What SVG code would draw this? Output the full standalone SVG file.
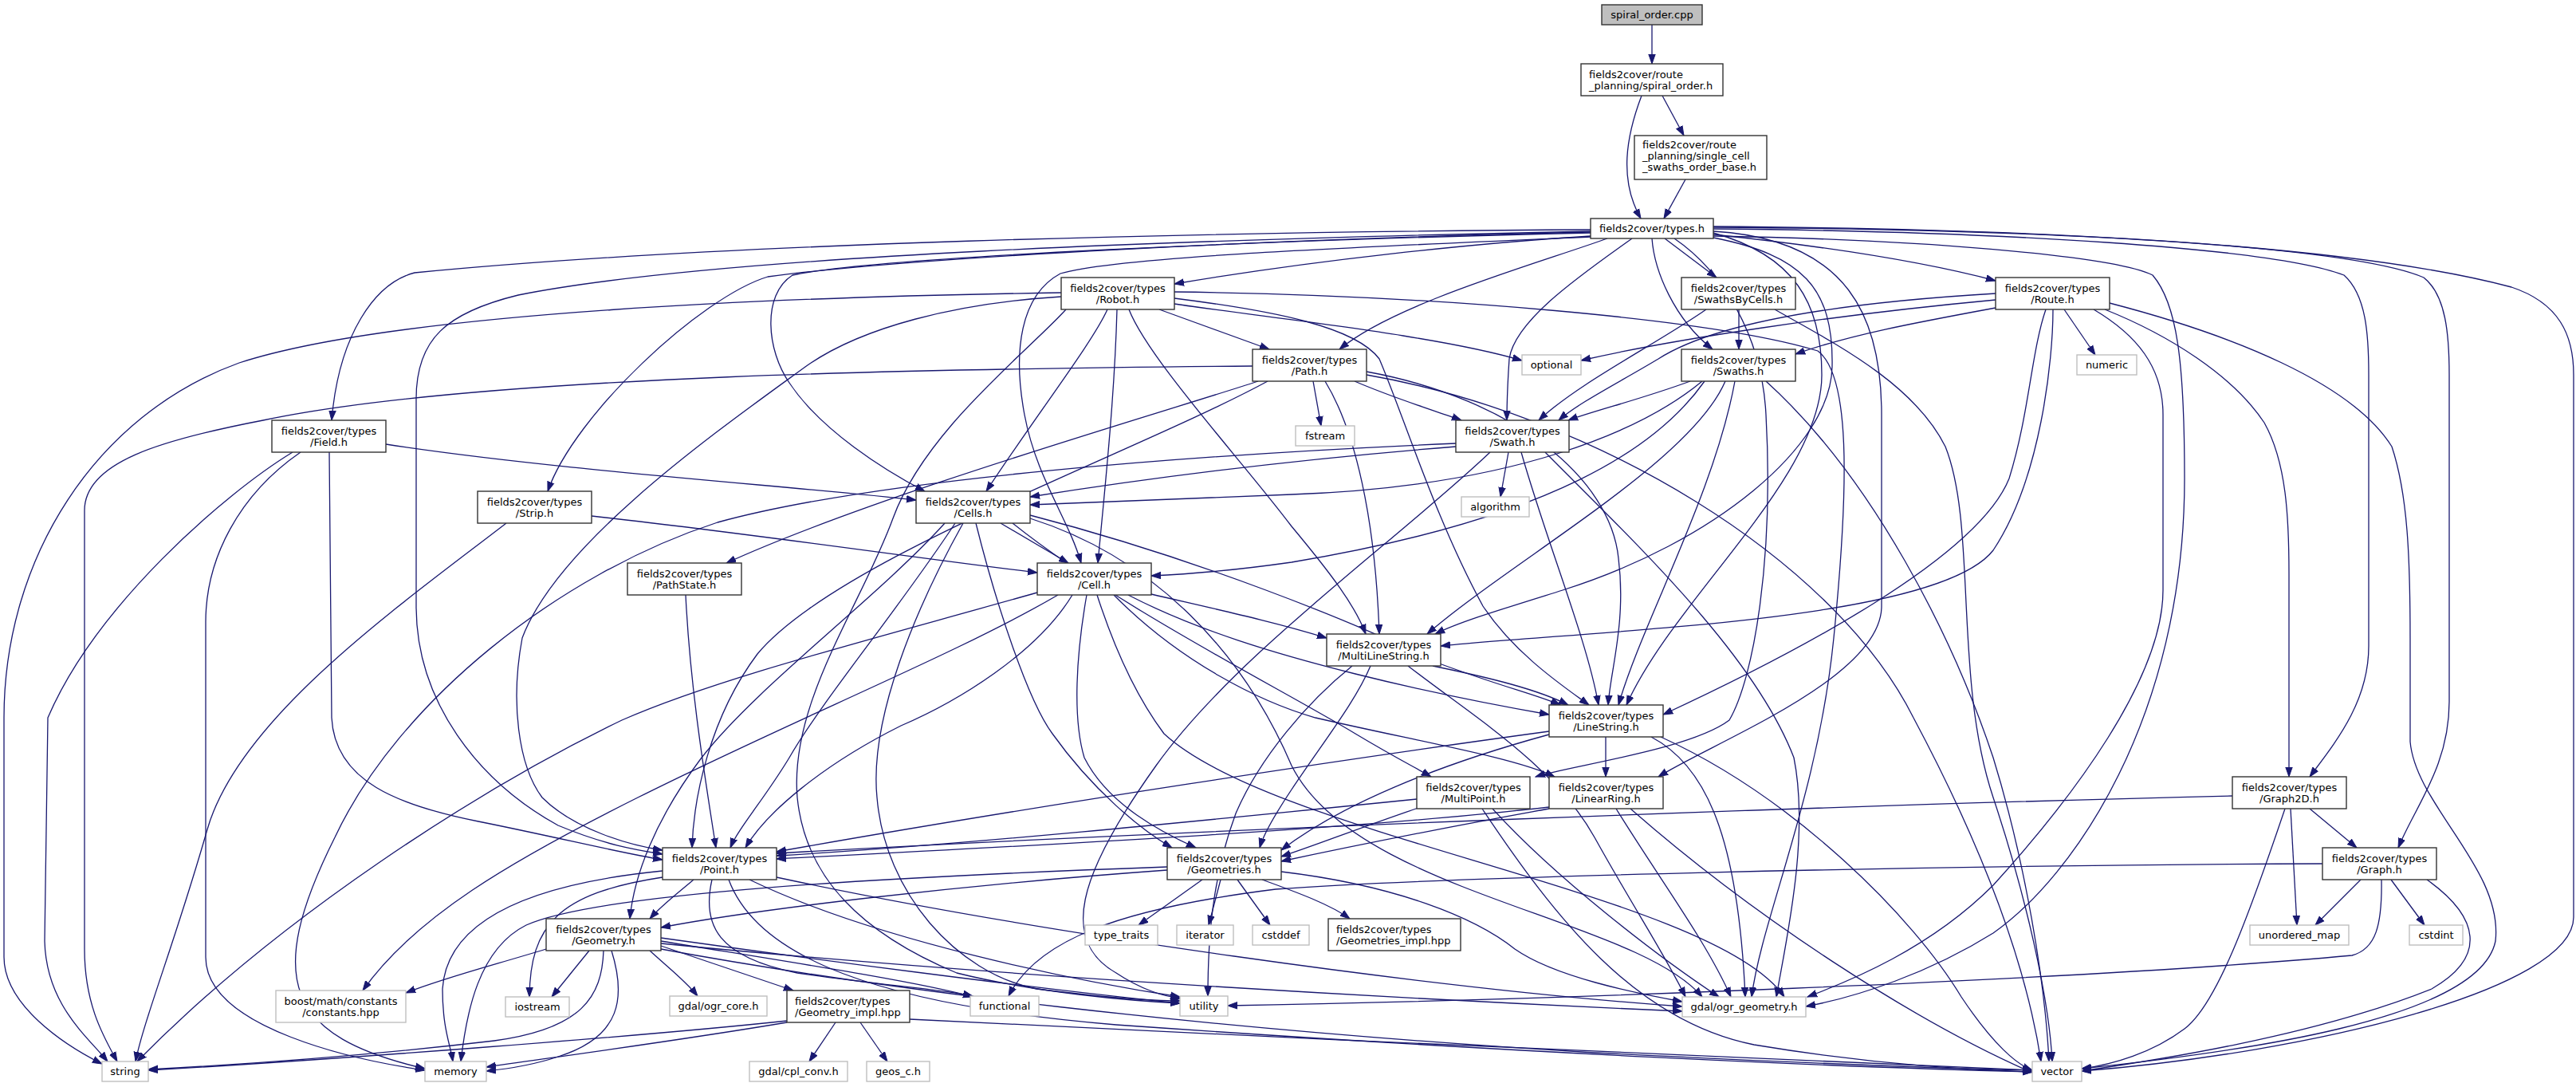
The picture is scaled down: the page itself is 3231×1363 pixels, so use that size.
<svg xmlns="http://www.w3.org/2000/svg" width="3231" height="1363" viewBox="0 0 3231 1363">
<defs>
<marker id="a" markerWidth="13" markerHeight="10" refX="12" refY="5" orient="auto" markerUnits="userSpaceOnUse"><path d="M0,0.8 L12,5 L0,9.2 z" fill="#191970" stroke="#191970" stroke-width="1"/></marker>
<style>
.n rect{fill:#fff;stroke:#333;stroke-width:1.4}
.x rect{fill:#fff;stroke:#bfbfbf;stroke-width:1.4}
.r rect{fill:#bfbfbf;stroke:#333;stroke-width:1.4}
text{font-family:"DejaVu Sans","Liberation Sans",sans-serif;font-size:13px;fill:#000}
.c{text-anchor:middle}
.l{text-anchor:start}
#edges path{fill:none;stroke:#191970;stroke-width:1.3;marker-end:url(#a)}
</style>
</defs>
<rect width="3231" height="1363" fill="#fff"/>
<g id="edges">
<path d="M2072,31 L2072,80"/>
<path d="M2059,120 C2040,170 2030,225 2058,274"/>
<path d="M2085,120 L2112,170"/>
<path d="M2114,225 L2087,274"/>
<path d="M1995,288 C1500,291 900,305 520,342 C470,355 425,420 416,527"/>
<path d="M1995,290 C1500,300 900,320 650,370 C560,392 522,425 522,500 L522,760 C522,880 600,980 700,1035 C760,1060 800,1066 831,1071"/>
<path d="M1995,291 C1600,300 1150,322 963,347 C880,372 720,520 687,616"/>
<path d="M1995,292 C1600,301 1100,322 994,345 C955,370 962,440 990,480 C1030,540 1110,590 1160,616"/>
<path d="M1995,296 C1850,305 1650,326 1473,356"/>
<path d="M1995,297 C1700,310 1400,322 1330,343 C1280,370 1270,440 1285,520 C1300,600 1340,650 1356,706"/>
<path d="M2016,299 C1930,330 1750,380 1680,438"/>
<path d="M2047,299 C1990,340 1900,400 1893,450 C1891,480 1890,505 1890,527"/>
<path d="M2072,299 C2075,340 2100,400 2148,438"/>
<path d="M2088,299 L2153,348"/>
<path d="M2149,294 C2300,310 2420,330 2503,352"/>
<path d="M2149,287 C2500,290 2850,310 2940,345 C2968,370 2971,420 2971,470 L2971,810 C2971,880 2930,930 2897,974"/>
<path d="M2149,285 C2600,288 2950,310 3040,348 C3068,370 3072,420 3072,470 L3072,880 C3072,960 3030,1010 3008,1063"/>
<path d="M2149,284 C2700,288 3000,320 3150,360 C3210,380 3228,420 3228,470 L3228,1150 C3228,1240 2900,1320 2611,1343"/>
<path d="M2149,296 C2400,300 2650,320 2700,345 C2730,380 2740,450 2740,600 C2740,900 2600,1100 2500,1170 C2420,1220 2330,1250 2265,1262"/>
<path d="M2149,298 C2260,320 2300,360 2298,460 C2296,560 2150,680 1960,740 C1880,765 1830,780 1800,795"/>
<path d="M2149,292 C2250,320 2285,380 2285,470 C2285,600 2100,750 2040,884"/>
<path d="M2149,290 C2320,300 2360,400 2360,520 L2360,760 C2360,850 2150,930 2080,974"/>
<path d="M2100,299 C2160,340 2210,420 2215,520 C2225,700 2200,850 2169,903 C2120,940 1970,960 1926,974"/>
<path d="M1331,367 C1000,372 500,390 300,455 C120,520 5,700 5,900 L5,1200 C5,1260 80,1310 128,1334"/>
<path d="M1331,372 C1200,380 1080,410 1010,460 C900,540 700,680 655,800 C640,880 650,960 680,1000 C720,1040 790,1060 831,1066"/>
<path d="M1473,381 C1600,400 1800,420 1909,452"/>
<path d="M1454,388 L1592,438"/>
<path d="M1389,388 C1370,430 1300,520 1237,616"/>
<path d="M1401,388 C1398,500 1385,620 1377,706"/>
<path d="M1473,374 C1600,390 1700,410 1730,450 C1760,520 1800,650 1860,760 C1900,820 1960,860 1993,884"/>
<path d="M1416,388 C1440,450 1560,580 1620,660 C1670,720 1700,760 1713,795"/>
<path d="M1337,388 C1290,440 1160,540 1120,650 C1080,760 990,880 1000,1000 C1010,1100 1080,1170 1200,1220 C1300,1245 1420,1255 1480,1258"/>
<path d="M1473,366 C1800,370 2150,400 2280,440 C2320,470 2320,600 2300,800 C2280,1000 2210,1150 2197,1250"/>
<path d="M2181,388 L2181,438"/>
<path d="M2140,388 C2080,430 1980,480 1930,527"/>
<path d="M2226,388 C2300,430 2400,480 2440,560 C2480,660 2450,850 2500,1000 C2540,1120 2570,1250 2574,1331"/>
<path d="M2503,376 C2300,395 2100,425 1983,452"/>
<path d="M2503,386 C2400,405 2320,420 2252,444"/>
<path d="M2503,368 C2300,380 2150,405 2080,450 C2030,480 1980,505 1955,527"/>
<path d="M2589,388 L2628,445"/>
<path d="M2640,388 C2720,420 2800,470 2840,530 C2868,580 2871,650 2871,720 L2871,974"/>
<path d="M2646,380 C2800,420 2950,480 3000,560 C3020,620 3023,700 3023,800 L3023,930 C3030,1010 3140,1090 3130,1180 C3110,1280 2800,1320 2611,1340"/>
<path d="M2566,388 C2548,440 2545,520 2520,600 C2480,700 2250,820 2086,896"/>
<path d="M2575,388 C2575,450 2560,600 2500,690 C2430,780 2000,790 1807,810"/>
<path d="M2626,388 C2680,420 2713,460 2713,520 L2713,740 C2713,850 2600,1000 2500,1110 C2420,1190 2320,1230 2267,1250"/>
<path d="M1571,459 C1200,462 600,470 330,527 C200,552 106,580 106,640 L106,1190 C106,1260 130,1300 147,1331"/>
<path d="M1647,478 L1657,534"/>
<path d="M1699,478 C1750,500 1800,515 1833,527"/>
<path d="M1578,478 C1450,520 1100,620 911,706"/>
<path d="M1590,478 C1420,570 1050,700 950,820 C890,900 870,1000 868,1063"/>
<path d="M1662,478 C1700,540 1725,650 1730,795"/>
<path d="M1714,466 C1900,500 2020,600 2030,700 C2040,780 2020,840 2017,884"/>
<path d="M1714,470 C2000,520 2300,700 2400,900 C2480,1050 2540,1200 2560,1331"/>
<path d="M2120,478 C2060,500 2000,515 1967,527"/>
<path d="M2135,478 C2060,540 1900,610 1620,620 C1500,625 1380,630 1292,633"/>
<path d="M2138,478 C2080,560 1950,650 1620,705 C1550,715 1490,720 1444,722"/>
<path d="M2164,478 C2120,580 1900,700 1790,795"/>
<path d="M2176,478 C2150,620 2060,780 2030,884"/>
<path d="M2215,478 C2350,600 2450,800 2500,950 C2540,1080 2565,1230 2570,1331"/>
<path d="M484,557 C700,590 1000,610 1149,627"/>
<path d="M413,567 L416,900 C420,980 500,1010 600,1030 C700,1050 780,1070 831,1078"/>
<path d="M367,567 C280,620 120,760 60,900 L56,1180 C58,1260 110,1300 135,1331"/>
<path d="M377,567 C300,620 258,700 258,780 L258,1200 C258,1290 450,1330 533,1342"/>
<path d="M742,647 C950,670 1150,700 1301,718"/>
<path d="M635,656 C500,760 300,900 260,1040 C220,1180 180,1280 170,1331"/>
<path d="M1826,560 C1700,570 1500,590 1292,623"/>
<path d="M1826,556 C1500,570 1100,600 900,655 C700,720 500,880 420,1050 C330,1230 360,1300 533,1340"/>
<path d="M1892,567 L1882,623"/>
<path d="M1908,567 C1940,680 1990,800 2005,884"/>
<path d="M1869,567 C1750,680 1550,820 1450,960 C1350,1100 1330,1180 1400,1220 C1430,1240 1460,1250 1482,1252"/>
<path d="M1938,567 C2050,680 2200,820 2250,950 C2270,1050 2240,1180 2228,1250"/>
<path d="M1255,656 L1340,706"/>
<path d="M1185,656 C1100,750 950,860 880,950 C820,1030 795,1100 790,1152"/>
<path d="M1198,656 C1130,760 1030,880 990,950 C960,1000 925,1040 916,1063"/>
<path d="M1224,656 C1250,760 1290,880 1320,920 C1370,990 1430,1040 1470,1063"/>
<path d="M1292,646 C1500,700 1700,780 1800,830 C1880,860 1930,872 1957,884"/>
<path d="M1292,650 C1450,700 1560,820 1620,960 C1700,1120 2050,1150 2135,1250"/>
<path d="M1208,656 C1150,760 1090,900 1100,1000 C1110,1120 1200,1220 1300,1240 C1380,1250 1440,1255 1480,1255"/>
<path d="M1270,656 C1400,760 1600,860 1700,920 C1750,950 1780,965 1795,974"/>
<path d="M860,746 C865,850 880,950 898,1063"/>
<path d="M1301,743 C1100,800 900,850 780,903 C600,990 350,1150 172,1331"/>
<path d="M1327,746 C1200,820 1000,900 800,1000 C640,1080 520,1150 455,1242"/>
<path d="M1345,746 C1300,820 1200,880 1130,910 C1030,960 960,1020 935,1063"/>
<path d="M1363,746 C1350,820 1345,900 1360,950 C1390,1010 1460,1045 1500,1063"/>
<path d="M1376,746 C1400,820 1430,880 1460,920 C1600,1050 2150,1120 2238,1250"/>
<path d="M1397,746 C1480,830 1580,880 1650,900 C1780,930 1900,950 1950,974"/>
<path d="M1444,745 C1530,765 1600,780 1664,800"/>
<path d="M1415,746 C1500,790 1600,820 1700,845 C1800,870 1880,885 1943,896"/>
<path d="M1797,835 C1870,850 1930,865 1967,884"/>
<path d="M1719,835 C1700,880 1660,930 1620,990 C1600,1020 1585,1045 1580,1063"/>
<path d="M1696,835 C1640,880 1580,950 1550,1020 C1520,1100 1515,1180 1515,1249"/>
<path d="M1766,835 C1850,900 1950,960 2000,1050 C2050,1140 2090,1200 2114,1250"/>
<path d="M1943,917 C1700,950 1300,1010 974,1068"/>
<path d="M1943,921 C1800,960 1680,1010 1607,1066"/>
<path d="M2014,924 L2014,974"/>
<path d="M2071,924 C2140,960 2180,1050 2189,1250"/>
<path d="M2083,924 C2250,1000 2400,1150 2460,1250 C2500,1310 2530,1335 2549,1342"/>
<path d="M1943,1012 C1700,1040 1300,1060 974,1077"/>
<path d="M1943,1014 C1800,1040 1700,1060 1607,1080"/>
<path d="M2027,1014 C2080,1100 2140,1180 2171,1250"/>
<path d="M2045,1014 C2200,1150 2400,1280 2549,1345"/>
<path d="M1777,1002 C1500,1030 1200,1060 974,1073"/>
<path d="M1779,1013 C1700,1040 1650,1060 1607,1074"/>
<path d="M1859,1014 C1950,1150 2050,1280 2200,1310 C2350,1335 2480,1342 2549,1344"/>
<path d="M1872,1014 C1950,1100 2080,1200 2156,1250"/>
<path d="M2800,998 C2300,1010 1500,1040 974,1070"/>
<path d="M2897,1014 L2956,1063"/>
<path d="M2873,1014 L2881,1160"/>
<path d="M2866,1014 C2820,1150 2780,1260 2740,1290 C2700,1320 2650,1335 2611,1340"/>
<path d="M2961,1103 L2904,1160"/>
<path d="M2999,1103 L3041,1160"/>
<path d="M3044,1103 C3110,1150 3120,1200 3050,1240 C2900,1300 2700,1330 2611,1343"/>
<path d="M2987,1103 C2988,1160 2980,1190 2950,1198 C2600,1230 1900,1255 1540,1261"/>
<path d="M2913,1083 C2400,1085 1800,1100 1600,1115 C1400,1140 1300,1180 1265,1249"/>
<path d="M870,1103 C850,1120 830,1135 815,1152"/>
<path d="M831,1100 C700,1120 665,1160 664,1250"/>
<path d="M831,1092 C650,1110 560,1160 555,1240 C555,1290 565,1310 568,1331"/>
<path d="M893,1103 C880,1160 900,1200 1000,1220 C1100,1235 1180,1240 1220,1249"/>
<path d="M940,1103 C1100,1180 1350,1230 1480,1250"/>
<path d="M914,1103 C950,1200 1100,1260 1400,1285 C1900,1320 2300,1338 2549,1344"/>
<path d="M974,1100 C1300,1170 1800,1240 2110,1262"/>
<path d="M1464,1087 C1100,1100 750,1120 660,1160 C600,1190 585,1270 578,1331"/>
<path d="M1464,1091 C1200,1110 950,1140 829,1163"/>
<path d="M1508,1103 L1428,1160"/>
<path d="M1531,1103 L1516,1160"/>
<path d="M1552,1103 L1593,1160"/>
<path d="M1583,1103 C1630,1120 1670,1135 1693,1152"/>
<path d="M1607,1093 C1750,1110 1850,1150 1900,1190 C1950,1225 2050,1245 2110,1256"/>
<path d="M685,1190 C620,1210 560,1225 509,1245"/>
<path d="M739,1192 L692,1250"/>
<path d="M757,1192 C755,1250 730,1290 620,1305 C450,1325 300,1335 186,1341"/>
<path d="M767,1192 C785,1250 780,1300 700,1325 C670,1335 640,1340 610,1343"/>
<path d="M815,1192 C840,1215 860,1230 875,1249"/>
<path d="M829,1186 C900,1210 960,1230 995,1242"/>
<path d="M829,1180 C950,1200 1150,1230 1220,1250"/>
<path d="M829,1176 C1000,1200 1300,1240 1480,1258"/>
<path d="M829,1190 C1100,1240 1500,1290 2000,1320 C2300,1335 2450,1340 2549,1342"/>
<path d="M829,1183 C1200,1220 1700,1250 2110,1268"/>
<path d="M987,1280 C800,1300 400,1330 186,1342"/>
<path d="M987,1282 C850,1305 700,1325 610,1338"/>
<path d="M1048,1282 L1015,1331"/>
<path d="M1079,1282 L1113,1331"/>
<path d="M1141,1278 C1600,1300 2200,1330 2549,1342"/>
</g>
<g id="n1" class="r"><rect x="2009" y="6" width="126" height="25"/><text class="c" x="2072" y="23">spiral_order.cpp</text></g>
<g id="n2" class="n"><rect x="1983" y="80" width="178" height="40"/><text class="l" x="1993" y="97.5">fields2cover/route</text><text class="l" x="1993" y="111.5">_planning/spiral_order.h</text></g>
<g id="n3" class="n"><rect x="2050" y="170" width="166" height="55"/><text class="l" x="2060" y="186">fields2cover/route</text><text class="l" x="2060" y="200">_planning/single_cell</text><text class="l" x="2060" y="214">_swaths_order_base.h</text></g>
<g id="n4" class="n"><rect x="1995" y="274" width="154" height="25"/><text class="c" x="2072" y="291">fields2cover/types.h</text></g>
<g id="n5" class="n"><rect x="1331" y="348" width="142" height="40"/><text class="c" x="1402" y="365.5">fields2cover/types</text><text class="c" x="1402" y="379.5">/Robot.h</text></g>
<g id="n6" class="n"><rect x="2109" y="348" width="143" height="40"/><text class="c" x="2180.5" y="365.5">fields2cover/types</text><text class="c" x="2180.5" y="379.5">/SwathsByCells.h</text></g>
<g id="n7" class="n"><rect x="2503" y="348" width="143" height="40"/><text class="c" x="2574.5" y="365.5">fields2cover/types</text><text class="c" x="2574.5" y="379.5">/Route.h</text></g>
<g id="n8" class="x"><rect x="1909" y="445" width="74" height="25"/><text class="c" x="1946" y="462">optional</text></g>
<g id="n9" class="x"><rect x="2605" y="445" width="75" height="25"/><text class="c" x="2642.5" y="462">numeric</text></g>
<g id="n10" class="n"><rect x="1571" y="438" width="143" height="40"/><text class="c" x="1642.5" y="455.5">fields2cover/types</text><text class="c" x="1642.5" y="469.5">/Path.h</text></g>
<g id="n11" class="n"><rect x="2109" y="438" width="143" height="40"/><text class="c" x="2180.5" y="455.5">fields2cover/types</text><text class="c" x="2180.5" y="469.5">/Swaths.h</text></g>
<g id="n12" class="n"><rect x="341" y="527" width="143" height="40"/><text class="c" x="412.5" y="544.5">fields2cover/types</text><text class="c" x="412.5" y="558.5">/Field.h</text></g>
<g id="n13" class="n"><rect x="599" y="616" width="143" height="40"/><text class="c" x="670.5" y="633.5">fields2cover/types</text><text class="c" x="670.5" y="647.5">/Strip.h</text></g>
<g id="n14" class="n"><rect x="1826" y="527" width="142" height="40"/><text class="c" x="1897" y="544.5">fields2cover/types</text><text class="c" x="1897" y="558.5">/Swath.h</text></g>
<g id="n15" class="x"><rect x="1625" y="534" width="74" height="25"/><text class="c" x="1662" y="551">fstream</text></g>
<g id="n16" class="x"><rect x="1833" y="623" width="85" height="25"/><text class="c" x="1875.5" y="640">algorithm</text></g>
<g id="n17" class="n"><rect x="1149" y="616" width="143" height="40"/><text class="c" x="1220.5" y="633.5">fields2cover/types</text><text class="c" x="1220.5" y="647.5">/Cells.h</text></g>
<g id="n18" class="n"><rect x="787" y="706" width="143" height="40"/><text class="c" x="858.5" y="723.5">fields2cover/types</text><text class="c" x="858.5" y="737.5">/PathState.h</text></g>
<g id="n19" class="n"><rect x="1301" y="706" width="143" height="40"/><text class="c" x="1372.5" y="723.5">fields2cover/types</text><text class="c" x="1372.5" y="737.5">/Cell.h</text></g>
<g id="n20" class="n"><rect x="1664" y="795" width="143" height="40"/><text class="c" x="1735.5" y="812.5">fields2cover/types</text><text class="c" x="1735.5" y="826.5">/MultiLineString.h</text></g>
<g id="n21" class="n"><rect x="1943" y="884" width="143" height="40"/><text class="c" x="2014.5" y="901.5">fields2cover/types</text><text class="c" x="2014.5" y="915.5">/LineString.h</text></g>
<g id="n22" class="n"><rect x="1777" y="974" width="142" height="40"/><text class="c" x="1848" y="991.5">fields2cover/types</text><text class="c" x="1848" y="1005.5">/MultiPoint.h</text></g>
<g id="n23" class="n"><rect x="1943" y="974" width="143" height="40"/><text class="c" x="2014.5" y="991.5">fields2cover/types</text><text class="c" x="2014.5" y="1005.5">/LinearRing.h</text></g>
<g id="n24" class="n"><rect x="2800" y="974" width="143" height="40"/><text class="c" x="2871.5" y="991.5">fields2cover/types</text><text class="c" x="2871.5" y="1005.5">/Graph2D.h</text></g>
<g id="n25" class="n"><rect x="2913" y="1063" width="143" height="40"/><text class="c" x="2984.5" y="1080.5">fields2cover/types</text><text class="c" x="2984.5" y="1094.5">/Graph.h</text></g>
<g id="n26" class="n"><rect x="831" y="1063" width="143" height="40"/><text class="c" x="902.5" y="1080.5">fields2cover/types</text><text class="c" x="902.5" y="1094.5">/Point.h</text></g>
<g id="n27" class="n"><rect x="1464" y="1063" width="143" height="40"/><text class="c" x="1535.5" y="1080.5">fields2cover/types</text><text class="c" x="1535.5" y="1094.5">/Geometries.h</text></g>
<g id="n28" class="n"><rect x="685" y="1152" width="144" height="40"/><text class="c" x="757" y="1169.5">fields2cover/types</text><text class="c" x="757" y="1183.5">/Geometry.h</text></g>
<g id="n29" class="x"><rect x="1361" y="1160" width="91" height="25"/><text class="c" x="1406.5" y="1177">type_traits</text></g>
<g id="n30" class="x"><rect x="1476" y="1160" width="71" height="25"/><text class="c" x="1511.5" y="1177">iterator</text></g>
<g id="n31" class="x"><rect x="1571" y="1160" width="71" height="25"/><text class="c" x="1606.5" y="1177">cstddef</text></g>
<g id="n32" class="n"><rect x="1666" y="1152" width="166" height="40"/><text class="l" x="1676" y="1169.5">fields2cover/types</text><text class="l" x="1676" y="1183.5">/Geometries_impl.hpp</text></g>
<g id="n33" class="x"><rect x="2822" y="1160" width="124" height="25"/><text class="c" x="2884" y="1177">unordered_map</text></g>
<g id="n34" class="x"><rect x="3022" y="1160" width="67" height="25"/><text class="c" x="3055.5" y="1177">cstdint</text></g>
<g id="n35" class="x"><rect x="346" y="1242" width="163" height="40"/><text class="c" x="427.5" y="1259.5">boost/math/constants</text><text class="c" x="427.5" y="1273.5">/constants.hpp</text></g>
<g id="n36" class="x"><rect x="634" y="1250" width="80" height="25"/><text class="c" x="674" y="1267">iostream</text></g>
<g id="n37" class="x"><rect x="840" y="1249" width="122" height="25"/><text class="c" x="901" y="1266">gdal/ogr_core.h</text></g>
<g id="n38" class="n"><rect x="987" y="1242" width="154" height="40"/><text class="l" x="997" y="1259.5">fields2cover/types</text><text class="l" x="997" y="1273.5">/Geometry_impl.hpp</text></g>
<g id="n39" class="x"><rect x="1217" y="1249" width="86" height="25"/><text class="c" x="1260" y="1266">functional</text></g>
<g id="n40" class="x"><rect x="1480" y="1249" width="60" height="25"/><text class="c" x="1510" y="1266">utility</text></g>
<g id="n41" class="x"><rect x="2110" y="1250" width="155" height="25"/><text class="c" x="2187.5" y="1267">gdal/ogr_geometry.h</text></g>
<g id="n42" class="x"><rect x="128" y="1331" width="58" height="25"/><text class="c" x="157" y="1348">string</text></g>
<g id="n43" class="x"><rect x="533" y="1331" width="77" height="25"/><text class="c" x="571.5" y="1348">memory</text></g>
<g id="n44" class="x"><rect x="940" y="1331" width="123" height="25"/><text class="c" x="1001.5" y="1348">gdal/cpl_conv.h</text></g>
<g id="n45" class="x"><rect x="1087" y="1331" width="79" height="25"/><text class="c" x="1126.5" y="1348">geos_c.h</text></g>
<g id="n46" class="x"><rect x="2549" y="1331" width="62" height="25"/><text class="c" x="2580" y="1348">vector</text></g>
</svg>
